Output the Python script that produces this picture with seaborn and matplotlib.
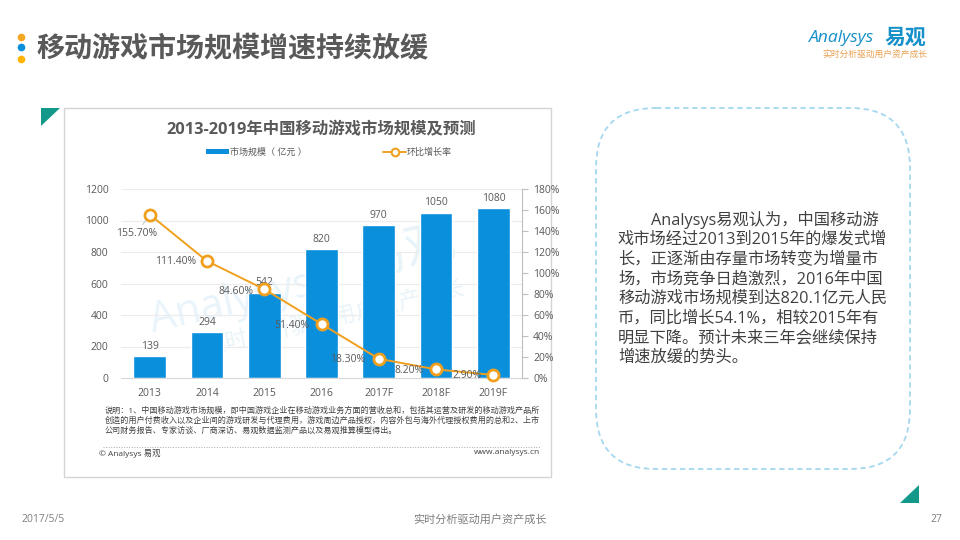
import matplotlib
matplotlib.use('Agg')
import matplotlib.pyplot as plt
import pandas as pd
import seaborn as sns
from matplotlib.lines import Line2D
from matplotlib.patches import FancyBboxPatch, Patch, Polygon, Rectangle

years = ['2013', '2014', '2015', '2016', '2017F', '2018F', '2019F']
market_size = [139, 294, 542, 820, 970, 1050, 1080]
growth_rate = [155.7, 111.4, 84.6, 51.4, 18.3, 8.2, 2.9]
growth_labels = ['155.70%', '111.40%', '84.60%', '51.40%', '18.30%', '8.20%', '2.90%']
left_ticks = [0, 200, 400, 600, 800, 1000, 1200]
right_ticks = [0, 20, 40, 60, 80, 100, 120, 140, 160, 180]

page_title = '移动游戏市场规模增速持续放缓'
chart_title = '2013-2019年中国移动游戏市场规模及预测'
note_lines = [
    '说明：1、中国移动游戏市场规模，即中国游戏企业在移动游戏业务方面的营收总和，包括其运营及研发的移动游戏产品所',
    '创造的用户付费收入以及企业间的游戏研发与代理费用，游戏周边产品授权，内容外包与海外代理授权费用的总和2、上市',
    '公司财务报告、专家访谈、厂商深访、易观数据监测产品以及易观推算模型得出。',
]
side_lines = [
    'Analysys易观认为，中国移动游',
    '戏市场经过2013到2015年的爆发式增',
    '长，正逐渐由存量市场转变为增量市',
    '场，市场竞争日趋激烈，2016年中国',
    '移动游戏市场规模到达820.1亿元人民',
    '币，同比增长54.1%，相较2015年有',
    '明显下降。预计未来三年会继续保持',
    '增速放缓的势头。',
]

BLUE = '#0a8fdc'
ORANGE = '#f0a01e'
TEAL = '#12998a'
GREY = '#595959'
WATERMARK = '#e9f4fa'

sns.set_style('white')
plt.rcParams['font.family'] = ['Open Sans', 'Noto Sans CJK SC', 'DejaVu Sans']
W, H = 960, 540
fig = plt.figure(figsize=(W / 100, H / 100), dpi=100, facecolor='white')

# page layer in pixel coordinates
page = fig.add_axes([0, 0, 1, 1], zorder=0)
page.set_xlim(0, W)
page.set_ylim(H, 0)
page.axis('off')

for dot_y, dot_c in zip([36.5, 47, 58.5], ['#f5a623', '#0a8fdc', '#ffb400']):
    page.plot(20.5, dot_y, 'o', ms=5.5, color=dot_c, mec='none')
page.text(36, 49, page_title, fontsize=20.2, fontweight='bold', color=GREY, va='center')

# logo
page.text(809, 38, 'Analysys', fontsize=12.6, color='#1590c8', va='center', style='italic')
page.text(885, 38, '易观', fontsize=15, fontweight='bold', color='#1590c8', va='center')
page.text(822, 54, '实时分析驱动用户资产成长', fontsize=6.3, color='#e8a050', va='center')

# chart card
page.add_patch(Rectangle((64, 108), 487, 369, fc='white', ec='#d4d4d4', lw=1))
page.add_patch(Polygon([(41, 108), (60, 108), (41, 126)], fc=TEAL, ec='none'))
page.add_patch(Polygon([(919, 485), (919, 503), (900, 503)], fc=TEAL, ec='none'))
page.text(321.5, 130.5, chart_title, fontsize=11.8, fontweight='bold', color=GREY, ha='center', va='center')

# watermark
page.text(150, 322, 'Analysys', fontsize=30, color=WATERMARK, rotation=13, va='center', rotation_mode='anchor')
page.text(357, 264, '易观', fontsize=36, color=WATERMARK, rotation=13, va='center', rotation_mode='anchor')
page.text(205, 349, '实时分析驱动用户资产成长', fontsize=16, color=WATERMARK, rotation=13, va='center',
          rotation_mode='anchor')

# note and footer of the card
for i, line in enumerate(note_lines):
    page.text(105, 411 + i * 10, line, fontsize=5.82, color='#404040', va='center')
page.plot([103, 540], [447, 447], color='#aaaaaa', lw=0.7, ls=':')
page.text(99, 454, '© Analysys 易观', fontsize=6, color='#404040', va='center')
page.text(540, 453, 'www.analysys.cn', fontsize=6, color='#404040', va='center', ha='right')

# side panel
page.add_patch(FancyBboxPatch((656, 168), 194, 241, boxstyle='round,pad=60,rounding_size=60',
                              fc='white', ec='#a5d8ef', lw=1.3, ls=(0, (3, 2))))
for i, line in enumerate(side_lines):
    page.text(651 if i == 0 else 618, 220 + i * 19.7, line, fontsize=11.7, color='#404040', va='center')

# page footer
page.text(21, 520, '2017/5/5', fontsize=7.5, color='#7f7f7f', va='center')
page.text(480, 520, '实时分析驱动用户资产成长', fontsize=8, color='#7f7f7f', va='center', ha='center')
page.text(936, 519, '27', fontsize=7.5, color='#7f7f7f', va='center', ha='center')

# chart axes
df = pd.DataFrame({'year': years, 'size': market_size, 'rate': growth_rate})
ax = fig.add_axes([121 / W, 1 - 378 / H, 401 / W, 189 / H], zorder=1)
ax.patch.set_alpha(0)
sns.barplot(data=df, x='year', y='size', color=BLUE, saturation=1, width=0.57, ax=ax, zorder=2)
ax.set_xlim(-0.5, 6.5)
ax.set_ylim(0, 1200)
ax.set_yticks(left_ticks)
ax.set_xlabel('')
ax.set_ylabel('')
ax.grid(axis='y', color='#ececec', lw=0.8)
ax.set_axisbelow(True)
ax.tick_params(axis='both', length=0, labelsize=7.5, labelcolor=GREY, pad=9)
ax.tick_params(axis='x', pad=7)
sns.despine(ax=ax, left=True, right=True, top=True)
ax.spines['bottom'].set_color('#d9d9d9')
ax.bar_label(ax.containers[0], padding=3, fontsize=7.5, color=GREY)

ax2 = ax.twinx()
ax2.set_zorder(2)
ax2.patch.set_alpha(0)
sns.lineplot(data=df, x='year', y='rate', sort=False, color=ORANGE, lw=1.4, marker='o', ms=8,
             mfc='white', mec=ORANGE, mew=2, ax=ax2, clip_on=False)
ax2.set_ylim(0, 180)
ax2.set_yticks(right_ticks)
ax2.set_yticklabels([f'{t}%' for t in right_ticks])
ax2.set_ylabel('')
ax2.tick_params(axis='y', length=4, width=0.8, color='#bfbfbf', labelsize=7.5, labelcolor=GREY, pad=4)
for side in ['top', 'left', 'bottom']:
    ax2.spines[side].set_visible(False)
ax2.spines['right'].set_color('#bfbfbf')

# label offsets from each point, in pixels
label_dx = [-13, -31, -28, -30, -31, -27, -26]
label_dy = [-19, 0, -2, -1, -1, -1, -1]
for i, label in enumerate(growth_labels):
    arrow = dict(arrowstyle='-', color='#bfbfbf', lw=0.6, shrinkA=0, shrinkB=5) if i == 0 else None
    ax2.annotate(label, (i, growth_rate[i]), xytext=(label_dx[i] * 0.72, label_dy[i] * 0.72),
                 textcoords='offset points', ha='center', va='center', fontsize=7.5, color=GREY,
                 arrowprops=arrow)

# legend
handles = [Patch(fc=BLUE, ec='none'),
           Line2D([], [], color=ORANGE, lw=1.4, marker='o', ms=5.5, mfc='white', mec=ORANGE, mew=1.5)]
fig.legend(handles, ['市场规模（ 亿元 ）', '环比增长率'], ncol=2, frameon=False, loc='center',
           bbox_to_anchor=(329 / W, 1 - 152 / H), fontsize=6.5, labelcolor=GREY,
           handlelength=2.5, handleheight=0.5, handletextpad=0.1, columnspacing=8.5)

fig.savefig('out.png', dpi=100)
